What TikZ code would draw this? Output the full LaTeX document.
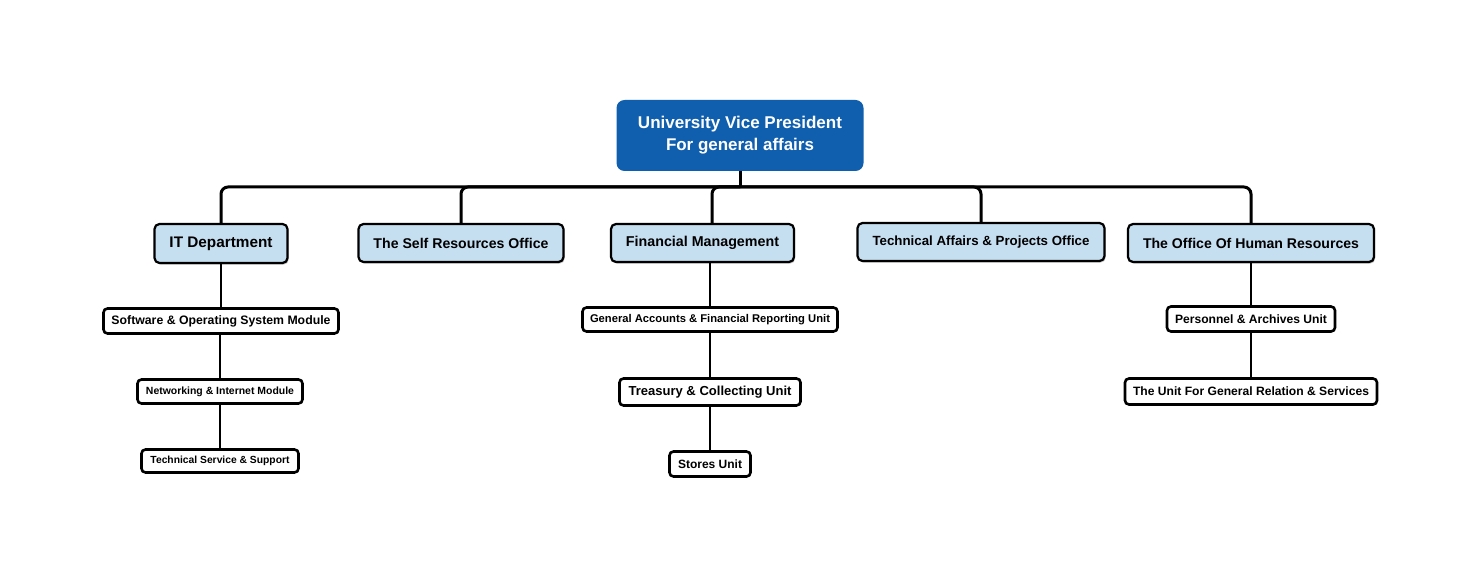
\documentclass[tikz,border=0pt]{standalone}
\usepackage{fontspec}
\setmainfont{Liberation Sans}
\usetikzlibrary{shadows}
\definecolor{rootblue}{HTML}{0F5FAE}
\definecolor{lightblue}{HTML}{C5DFF1}
\newcommand{\fw}[2]{\resizebox{#1}{!}{\bfseries #2}}
\begin{document}
\begin{tikzpicture}[x=1pt,y=-1pt,
  rootbox/.style={draw=none, fill=rootblue, rounded corners=8pt, text=white, inner sep=0pt, align=center},
  deptbox/.style={draw=black, line width=2.2pt, fill=lightblue, rounded corners=5pt, inner sep=0pt,
     drop shadow={shadow xshift=1.2pt, shadow yshift=-1.6pt, opacity=0.45}},
  unitbox/.style={draw=black, line width=2.6pt, fill=white, rounded corners=4pt, inner sep=0pt},
  bus/.style={line width=3pt, rounded corners=7pt},
  link/.style={line width=2pt}]
\useasboundingbox (0,0) rectangle (1480,580);
\fill[white] (0,0) rectangle (1480,580);

% root
\node[rootbox, minimum width=247pt, minimum height=71pt] (root) at (740,135.5)
  {\fw{204pt}{University Vice President}\\[5pt]\fw{148pt}{For general affairs}};

% departments
\node[deptbox, minimum width=133pt, minimum height=39pt] (it) at (221,243.5) {\fw{103pt}{IT Department}};
\node[deptbox, minimum width=205pt, minimum height=38pt] (self) at (461,243) {\fw{175pt}{The Self Resources Office}};
\node[deptbox, minimum width=183pt, minimum height=38pt] (fin) at (702.5,243) {\fw{153pt}{Financial Management}};
\node[deptbox, minimum width=247pt, minimum height=38pt] (tech) at (981,242) {\fw{217pt}{Technical Affairs \& Projects Office}};
\node[deptbox, minimum width=246pt, minimum height=38pt] (hr) at (1251,243) {\fw{216pt}{The Office Of Human Resources}};

% units
\node[unitbox, minimum width=235pt, minimum height=25pt] (sw) at (221,321) {\fw{219pt}{Software \& Operating System Module}};
\node[unitbox, minimum width=165pt, minimum height=24pt] (net) at (220,391.5) {\fw{148pt}{Networking \& Internet Module}};
\node[unitbox, minimum width=157pt, minimum height=23pt] (tss) at (220,461) {\fw{139pt}{Technical Service \& Support}};
\node[unitbox, minimum width=255pt, minimum height=24pt] (ga) at (710,319.5) {\fw{240pt}{General Accounts \& Financial Reporting Unit}};
\node[unitbox, minimum width=181pt, minimum height=27pt] (tr) at (710,392) {\fw{163pt}{Treasury \& Collecting Unit}};
\node[unitbox, minimum width=81pt, minimum height=25pt] (st) at (710,464) {\fw{64pt}{Stores Unit}};
\node[unitbox, minimum width=168pt, minimum height=25pt] (pa) at (1251,319) {\fw{152pt}{Personnel \& Archives Unit}};
\node[unitbox, minimum width=252pt, minimum height=26pt] (ug) at (1251,391.5) {\fw{236pt}{The Unit For General Relation \& Services}};

% bus
\coordinate (J) at (740,187);
\draw[bus] (root.south) -- (J);
\draw[bus] (J) -| (it.north);
\draw[bus] (J) -| (self.north);
\draw[bus] ([xshift=9.5pt]fin.north) |- (J);
\draw[bus] (J) -| (tech.north);
\draw[bus] (J) -| (hr.north);

% vertical links
\draw[link] (it.south) -- (it.south |- sw.north);
\draw[link] (sw.south -| net.north) -- (net.north);
\draw[link] (net.south) -- (net.south |- tss.north);
\draw[link] (fin.south -| ga.north) -- (ga.north);
\draw[link] (ga.south) -- (ga.south |- tr.north);
\draw[link] (tr.south) -- (tr.south |- st.north);
\draw[link] (hr.south) -- (hr.south |- pa.north);
\draw[link] (pa.south) -- (pa.south |- ug.north);
\end{tikzpicture}
\end{document}
